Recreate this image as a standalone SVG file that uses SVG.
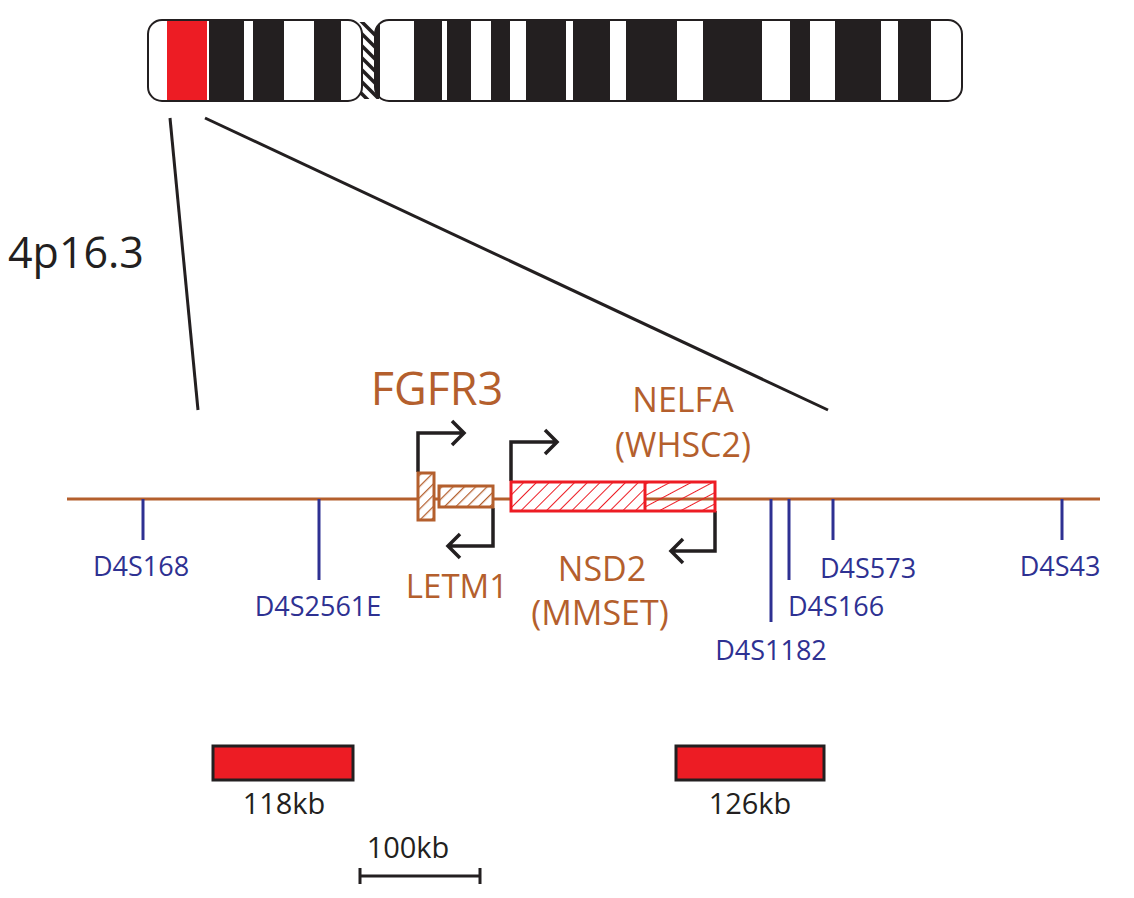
<svg xmlns="http://www.w3.org/2000/svg" width="1134" height="898" viewBox="0 0 1134 898">
<style>
.br{fill:#b45f2d;font-family:"Open Sans","Liberation Sans",sans-serif}
.bl{fill:#2e3192;font-family:"Open Sans","Liberation Sans",sans-serif;font-size:27px;text-anchor:middle}
.bk{fill:#231f20;font-family:"Open Sans","Liberation Sans",sans-serif}
.mk{stroke:#2e3192;stroke-width:3}
.arr{fill:none;stroke:#231f20;stroke-width:3.5}
.band{fill:#231f20}
.ch{stroke:#231f20;stroke-width:3.5}
</style>
<defs>
<pattern id="hb" width="8" height="8" patternUnits="userSpaceOnUse" patternTransform="rotate(45)"><line x1="0" y1="0" x2="0" y2="8" stroke="#b45f2d" stroke-width="2.5"/></pattern>
<pattern id="hr1" width="9" height="9" patternUnits="userSpaceOnUse" patternTransform="rotate(45)"><line x1="0" y1="0" x2="0" y2="9" stroke="#ed1c24" stroke-width="2"/></pattern>
<pattern id="hr2" width="10" height="10" patternUnits="userSpaceOnUse" patternTransform="rotate(62)"><line x1="0" y1="0" x2="0" y2="10" stroke="#ed1c24" stroke-width="2"/></pattern>
<clipPath id="cl"><rect x="148" y="20" width="214" height="81" rx="14"/></clipPath>
<clipPath id="cr"><rect x="375" y="20" width="587" height="81" rx="14"/></clipPath>
<clipPath id="cc"><rect x="357" y="22" width="22" height="77"/></clipPath>
</defs>
<g id="chromosome">
<g clip-path="url(#cc)">
<line class="ch" x1="350" y1="10" x2="390" y2="50"/>
<line class="ch" x1="350" y1="22" x2="390" y2="62"/>
<line class="ch" x1="350" y1="34" x2="390" y2="74"/>
<line class="ch" x1="350" y1="46" x2="390" y2="86"/>
<line class="ch" x1="350" y1="58" x2="390" y2="98"/>
<line class="ch" x1="350" y1="70" x2="390" y2="110"/>
<line class="ch" x1="350" y1="82" x2="390" y2="122"/>
<line class="ch" x1="350" y1="94" x2="390" y2="134"/>
</g>
<g clip-path="url(#cl)">
<rect x="148" y="20" width="214" height="81" fill="#fff"/>
<rect x="167" y="20" width="40" height="81" fill="#ed1c24"/>
<rect class="band" x="209" y="20" width="35" height="81"/>
<rect class="band" x="253" y="20" width="31" height="81"/>
<rect class="band" x="314" y="20" width="27" height="81"/>
</g>
<g clip-path="url(#cr)">
<rect x="375" y="20" width="587" height="81" fill="#fff"/>
<rect class="band" x="375" y="20" width="5" height="81"/>
<rect class="band" x="414" y="20" width="28" height="81"/>
<rect class="band" x="447" y="20" width="24" height="81"/>
<rect class="band" x="491" y="20" width="19" height="81"/>
<rect class="band" x="526" y="20" width="40" height="81"/>
<rect class="band" x="573" y="20" width="37" height="81"/>
<rect class="band" x="626" y="20" width="51" height="81"/>
<rect class="band" x="703" y="20" width="59" height="81"/>
<rect class="band" x="790" y="20" width="20" height="81"/>
<rect class="band" x="835" y="20" width="46" height="81"/>
<rect class="band" x="898" y="20" width="33" height="81"/>
</g>
<rect x="148" y="20" width="214" height="81" rx="14" fill="none" stroke="#231f20" stroke-width="2"/>
<rect x="375" y="20" width="587" height="81" rx="14" fill="none" stroke="#231f20" stroke-width="2"/>
</g>
<g id="connectors">
<line x1="170" y1="118" x2="198" y2="410" stroke="#231f20" stroke-width="3"/>
<line x1="205" y1="118" x2="828" y2="410" stroke="#231f20" stroke-width="3"/>
<line x1="67" y1="499" x2="1100" y2="499" stroke="#b45f2d" stroke-width="3"/>
<line class="mk" x1="143" y1="499" x2="143" y2="540"/>
<line class="mk" x1="319" y1="499" x2="319" y2="580"/>
<line class="mk" x1="771" y1="499" x2="771" y2="622"/>
<line class="mk" x1="789" y1="499" x2="789" y2="580"/>
<line class="mk" x1="833" y1="499" x2="833" y2="540"/>
<line class="mk" x1="1062" y1="499" x2="1062" y2="540"/>
<path class="arr" d="M418 472V433H464M452 421L464 433L452 445"/>
<path class="arr" d="M511 481V442H557M545 430L557 442L545 454"/>
<path class="arr" d="M493 508V546H448M460 534L448 546L460 558"/>
<path class="arr" d="M715 511V551H671M683 539L671 551L683 563"/>
</g>
<text class="bk" x="8" y="268" font-size="43">4p16.3</text>
<g id="fgfr3">
<rect x="418" y="473" width="16" height="47" fill="#fff" stroke="#b45f2d" stroke-width="3"/>
<rect x="418" y="473" width="16" height="47" fill="url(#hb)"/>
<rect x="439" y="486" width="54" height="21" fill="#fff" stroke="#b45f2d" stroke-width="3"/>
<rect x="439" y="486" width="54" height="21" fill="url(#hb)"/>
<text class="br" x="437" y="405" font-size="45" text-anchor="middle">FGFR3</text>
<text class="br" x="457" y="598" font-size="33" text-anchor="middle">LETM1</text>
</g>
<g id="nsd2">
<rect x="511" y="482" width="134" height="29" fill="#fff"/>
<rect x="511" y="482" width="134" height="29" fill="url(#hr1)"/>
<rect x="645" y="482" width="70" height="29" fill="url(#hr2)"/>
<rect x="511" y="482" width="204" height="29" fill="none" stroke="#ed1c24" stroke-width="3"/>
<line x1="645" y1="482" x2="645" y2="511" stroke="#ed1c24" stroke-width="3"/>
<text class="br" x="683" y="412" font-size="34" text-anchor="middle">NELFA</text>
<text class="br" x="683" y="457" font-size="34" text-anchor="middle">(WHSC2)</text>
<text class="br" x="602" y="581" font-size="34" text-anchor="middle">NSD2</text>
<text class="br" x="600" y="625" font-size="34" text-anchor="middle">(MMSET)</text>
</g>
<g id="markers">
<text class="bl" x="141" y="576">D4S168</text>
<text class="bl" x="318" y="616">D4S2561E</text>
<text class="bl" x="771" y="660">D4S1182</text>
<text class="bl" x="836" y="616">D4S166</text>
<text class="bl" x="868" y="578">D4S573</text>
<text class="bl" x="1060" y="576">D4S43</text>
</g>
<g id="clones">
<rect x="213" y="746" width="140" height="34" fill="#ed1c24" stroke="#231f20" stroke-width="3"/>
<rect x="676" y="746" width="148" height="34" fill="#ed1c24" stroke="#231f20" stroke-width="3"/>
<text class="bk" x="284" y="814" font-size="29" text-anchor="middle">118kb</text>
<text class="bk" x="750" y="814" font-size="29" text-anchor="middle">126kb</text>
<text class="bk" x="408" y="858" font-size="29" text-anchor="middle">100kb</text>
<path d="M360 876H480M360 868V884M480 868V884" stroke="#231f20" stroke-width="3" fill="none"/>
</g>
</svg>
